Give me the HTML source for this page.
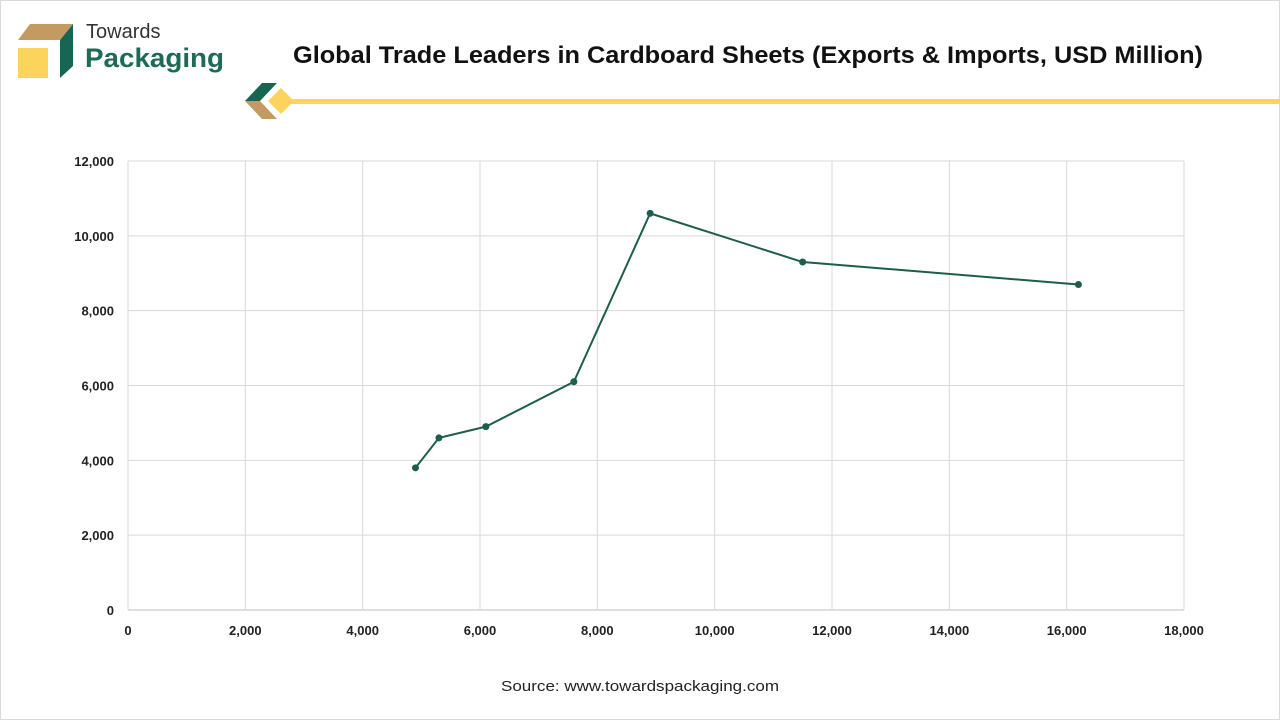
<!DOCTYPE html>
<html><head><meta charset="utf-8"><style>
html,body{margin:0;padding:0;background:#fff;}
body{width:1280px;height:720px;position:relative;overflow:hidden;font-family:"Liberation Sans",sans-serif;}
.frame{position:absolute;left:0;top:0;width:1278px;height:718px;border:1px solid #d9d9d9;}
</style></head><body>
<div class="frame"></div>
<svg width="1280" height="720" style="position:absolute;left:0;top:0">
  <g>
    <polygon points="30,24 73,24 60,40 18,40" fill="#c49a63"/>
    <rect x="18" y="48" width="30" height="30" fill="#fcd45b"/>
    <polygon points="60,40 73,24 73,66 60,78" fill="#176653"/>
    <text x="86" y="38" font-size="20" fill="#333">Towards</text>
    <text x="85" y="67" font-size="27" font-weight="bold" fill="#1d6a55" textLength="139" lengthAdjust="spacingAndGlyphs">Packaging</text>
  </g>
  <text x="293" y="63" font-size="24" font-weight="bold" fill="#111" textLength="910" lengthAdjust="spacingAndGlyphs">Global Trade Leaders in Cardboard Sheets (Exports &amp; Imports, USD Million)</text>
  <g>
    <rect x="280" y="99" width="1000" height="5" fill="#fcd45b"/>
    <polygon points="262,83 277,83 260,101 245,101" fill="#176653"/>
    <polygon points="245,101 260,101 277,119 262,119" fill="#c49a63"/>
    <polygon points="281,88 294,101 281,114 268,101" fill="#fcd45b"/>
  </g>
  <g id="grid"></g>
  <g id="axes"></g>
  <g id="series"></g>
  <text x="501" y="691" font-size="15" fill="#222" textLength="278" lengthAdjust="spacingAndGlyphs">Source: www.towardspackaging.com</text>
</svg>
<script>
const xValues=[4900,5300,6100,7600,8900,11500,16200];
const yValues=[3800,4600,4900,6100,10600,9300,8700];
const xTicks=[0,2000,4000,6000,8000,10000,12000,14000,16000,18000];
const yTicks=[0,2000,4000,6000,8000,10000,12000];
const L=128,R=1184,T=161,B=610,XMAX=18000,YMAX=12000;
const sx=v=>L+(R-L)*v/XMAX, sy=v=>B-(B-T)*v/YMAX;
const NS="http://www.w3.org/2000/svg";
function mk(tag,attrs,parent){const e=document.createElementNS(NS,tag);for(const k in attrs)e.setAttribute(k,attrs[k]);parent.appendChild(e);return e;}
const grid=document.getElementById('grid'),axes=document.getElementById('axes'),ser=document.getElementById('series');
const fmt=v=>v.toLocaleString('en-US');
yTicks.forEach(v=>{
  const l=mk('line',{x1:L,x2:R,y1:sy(v),y2:sy(v),stroke:v===0?'#bfbfbf':'#d9d9d9','stroke-width':1},grid);
  
  
  const t=mk('text',{x:L-14,y:sy(v)+5,'font-size':13,'font-weight':'bold','text-anchor':'end',fill:'#222'},axes);
  t.textContent=fmt(v);
  
  
});
xTicks.forEach(v=>{
  const l=mk('line',{y1:T,y2:B,x1:sx(v),x2:sx(v),stroke:'#d9d9d9','stroke-width':1},grid);
  
  
  const t=mk('text',{x:sx(v),y:B+25,'font-size':13,'font-weight':'bold','text-anchor':'middle',fill:'#222'},axes);
  t.textContent=fmt(v);
  
  
});
const pts=xValues.map((x,i)=>sx(x)+','+sy(yValues[i])).join(' ');
const pl=mk('polyline',{points:pts,fill:'none',stroke:'#1d5e4a','stroke-width':2},ser);


xValues.forEach((x,i)=>{
  const c=mk('circle',{cx:sx(x),cy:sy(yValues[i]),r:3.5,fill:'#1d5e4a'},ser);
  
  
});
</script>
</body></html>
